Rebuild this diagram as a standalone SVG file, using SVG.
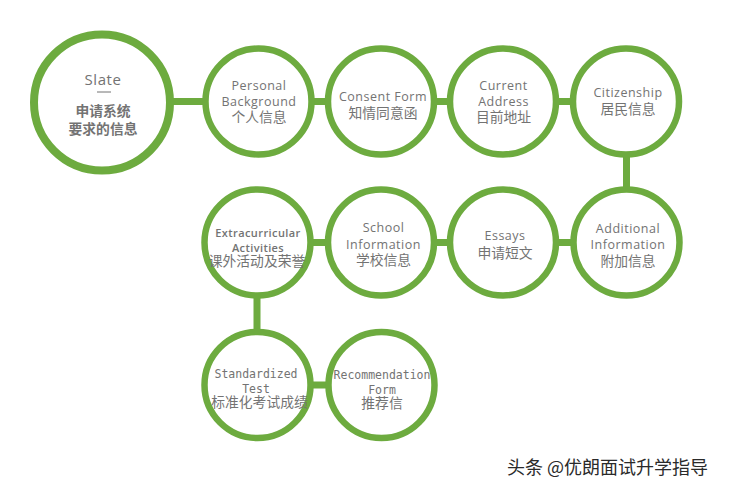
<svg xmlns="http://www.w3.org/2000/svg" width="729" height="491" viewBox="0 0 729 491">
<style>
.c{fill:#fff;stroke:#6dab3f;stroke-width:6.5}
.big{fill:#fff;stroke:#6dab3f;stroke-width:8}
.ln{stroke:#6dab3f;stroke-width:7;fill:none}
text{fill:#737373;text-anchor:middle}
.en{font-family:"Open Sans","Liberation Sans",sans-serif;font-size:12.5px;letter-spacing:0.5px}
.enb{font-family:"Open Sans","Liberation Sans",sans-serif;font-size:11px;font-weight:600;letter-spacing:0.4px}
.mono{font-family:"DejaVu Sans Mono","Liberation Mono",monospace;font-size:11.5px}
.cn{font-family:"Noto Sans CJK SC",sans-serif;font-size:13.8px}
.cnb{font-family:"Noto Sans CJK SC",sans-serif;font-size:13.8px;font-weight:bold}
.wm{font-family:"Noto Sans CJK SC",sans-serif;font-size:18px;fill:#2a2a2a;text-anchor:start}
</style>
<rect width="729" height="491" fill="#fff"/>
<g id="connectors">
<line class="ln" x1="170" y1="101.5" x2="210" y2="101.5"/>
<line class="ln" x1="258" y1="101.5" x2="626" y2="101.5"/>
<line class="ln" x1="626.5" y1="101.5" x2="626.5" y2="242.5"/>
<line class="ln" x1="257" y1="242.5" x2="626" y2="242.5"/>
<line class="ln" x1="257" y1="242.5" x2="257" y2="385"/>
<line class="ln" x1="257" y1="385" x2="381" y2="385"/>
</g>
<g id="slate">
<circle class="big" cx="102" cy="102.5" r="68"/>
<text class="en" x="103" y="85" style="font-size:15px;letter-spacing:0.6px">Slate</text>
<line x1="97" y1="92" x2="111" y2="92" stroke="#737373" stroke-width="1"/>
<text class="cnb" x="103" y="116">申请系统</text>
<text class="cnb" x="103" y="134">要求的信息</text>
</g>
<g id="personal">
<circle class="c" cx="258.5" cy="101.5" r="53"/>
<text class="en" x="259" y="90">Personal</text>
<text class="en" x="259" y="106">Background</text>
<text class="cn" x="259" y="122">个人信息</text>
</g>
<g id="consent">
<circle class="c" cx="381" cy="101.5" r="53"/>
<text class="en" x="383" y="101">Consent Form</text>
<text class="cn" x="383" y="118">知情同意函</text>
</g>
<g id="address">
<circle class="c" cx="503" cy="101.5" r="53"/>
<text class="en" x="503.5" y="90">Current</text>
<text class="en" x="503.5" y="106">Address</text>
<text class="cn" x="503.5" y="122">目前地址</text>
</g>
<g id="citizenship">
<circle class="c" cx="626" cy="101.5" r="53"/>
<text class="en" x="628" y="97">Citizenship</text>
<text class="cn" x="628" y="114">居民信息</text>
</g>
<g id="extracurricular">
<circle class="c" cx="257.5" cy="242.5" r="53"/>
<text class="enb" x="258" y="237">Extracurricular</text>
<text class="enb" x="258" y="252">Activities</text>
<text class="cn" x="257" y="266">课外活动及荣誉</text>
</g>
<g id="school">
<circle class="c" cx="381" cy="242.5" r="53"/>
<text class="en" x="383.5" y="232">School</text>
<text class="en" x="383.5" y="249">Information</text>
<text class="cn" x="383.5" y="265">学校信息</text>
</g>
<g id="essays">
<circle class="c" cx="503" cy="242.5" r="53"/>
<text class="en" x="505" y="240">Essays</text>
<text class="cn" x="505" y="258">申请短文</text>
</g>
<g id="additional">
<circle class="c" cx="626.5" cy="242.5" r="53"/>
<text class="en" x="628" y="233">Additional</text>
<text class="en" x="628" y="249">Information</text>
<text class="cn" x="628" y="266">附加信息</text>
</g>
<g id="standardized">
<circle class="c" cx="257.5" cy="385" r="53"/>
<text class="mono" x="256" y="378">Standardized</text>
<text class="mono" x="256" y="393">Test</text>
<text class="cn" x="259.5" y="407">标准化考试成绩</text>
</g>
<g id="recommendation">
<circle class="c" cx="381.5" cy="385" r="53"/>
<text class="mono" x="382" y="379">Recommendation</text>
<text class="mono" x="382" y="394">Form</text>
<text class="cn" x="382" y="408">推荐信</text>
</g>
<text class="wm" x="507" y="474">头条 @优朗面试升学指导</text>
</svg>
